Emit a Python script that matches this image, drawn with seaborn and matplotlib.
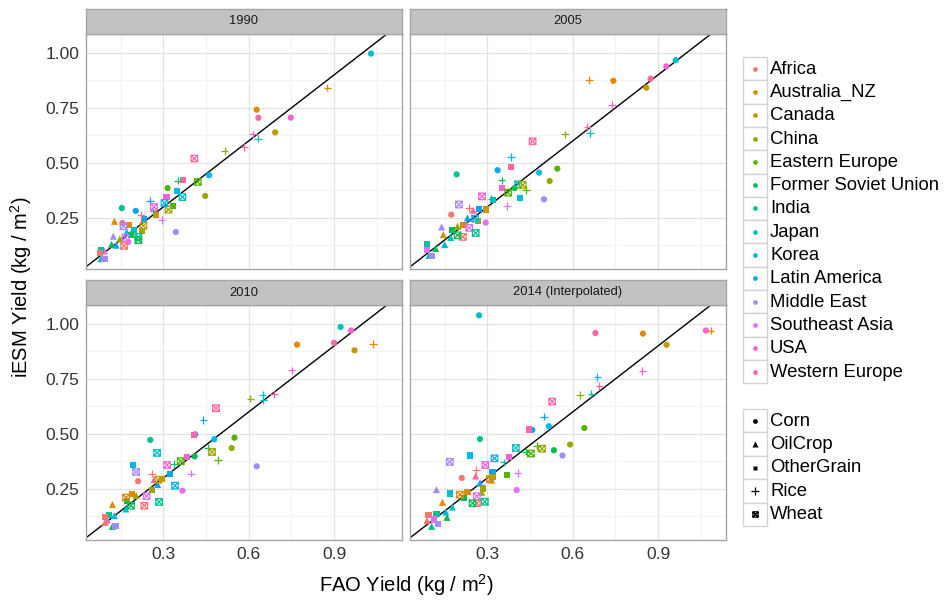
import matplotlib
matplotlib.use("Agg")
import pandas as pd
import seaborn as sns
import matplotlib.pyplot as plt
from matplotlib.path import Path
from matplotlib.patches import Rectangle

# categories
regions = ["Africa", "Australia_NZ", "Canada", "China", "Eastern Europe",
           "Former Soviet Union", "India", "Japan", "Korea", "Latin America",
           "Middle East", "Southeast Asia", "USA", "Western Europe"]
region_colors = ["#F8766D", "#E38900", "#C49A00", "#99A800", "#53B400",
                 "#00BC56", "#00C094", "#00BFC4", "#00B6EB", "#06A4FF",
                 "#A58AFF", "#DF70F8", "#FB61D7", "#FF66A8"]
crops = ["Corn", "OilCrop", "OtherGrain", "Rice", "Wheat"]
years = ["1990", "2005", "2010", "2014 (Interpolated)"]

# (region, crop, FAO yield, iESM yield), kg / m2
yield_1990 = [
    ("Japan", "Corn", 1.030, 0.997), ("Australia_NZ", "Rice", 0.877, 0.842),
    ("Australia_NZ", "Corn", 0.628, 0.742), ("Western Europe", "Corn", 0.634, 0.705),
    ("USA", "Corn", 0.748, 0.706), ("Canada", "Corn", 0.693, 0.639),
    ("USA", "Rice", 0.616, 0.630), ("Japan", "Rice", 0.632, 0.611),
    ("Western Europe", "Rice", 0.585, 0.573), ("China", "Rice", 0.515, 0.555),
    ("Western Europe", "Wheat", 0.409, 0.520), ("Korea", "Corn", 0.461, 0.444),
    ("China", "Corn", 0.447, 0.350), ("Middle East", "Corn", 0.344, 0.186),
    ("Former Soviet Union", "Rice", 0.352, 0.420), ("Western Europe", "OtherGrain", 0.370, 0.424),
    ("Eastern Europe", "Wheat", 0.421, 0.414), ("Eastern Europe", "Corn", 0.315, 0.386),
    ("Korea", "OtherGrain", 0.348, 0.371), ("Japan", "Wheat", 0.367, 0.345),
    ("USA", "OtherGrain", 0.311, 0.345), ("Eastern Europe", "OtherGrain", 0.335, 0.305),
    ("China", "Wheat", 0.318, 0.288), ("Korea", "Wheat", 0.304, 0.318),
    ("Latin America", "Rice", 0.253, 0.327), ("USA", "Wheat", 0.267, 0.300),
    ("India", "Rice", 0.265, 0.280), ("India", "Corn", 0.154, 0.295),
    ("Latin America", "Corn", 0.203, 0.282), ("Africa", "Rice", 0.221, 0.264),
    ("Canada", "OtherGrain", 0.275, 0.262), ("Southeast Asia", "Rice", 0.294, 0.240),
    ("Australia_NZ", "OilCrop", 0.128, 0.235), ("Africa", "Corn", 0.156, 0.227),
    ("Middle East", "Wheat", 0.160, 0.212), ("Australia_NZ", "OtherGrain", 0.178, 0.217),
    ("Latin America", "OtherGrain", 0.233, 0.244), ("Canada", "Wheat", 0.230, 0.215),
    ("China", "OtherGrain", 0.226, 0.190), ("India", "Wheat", 0.212, 0.164),
    ("Former Soviet Union", "Wheat", 0.212, 0.149), ("Japan", "OtherGrain", 0.198, 0.194),
    ("Korea", "OilCrop", 0.171, 0.186), ("Former Soviet Union", "OtherGrain", 0.186, 0.171),
    ("Southeast Asia", "Wheat", 0.167, 0.160), ("Southeast Asia", "Corn", 0.177, 0.141),
    ("Africa", "Wheat", 0.162, 0.123), ("Middle East", "OilCrop", 0.124, 0.167),
    ("Former Soviet Union", "OilCrop", 0.118, 0.130), ("Latin America", "OilCrop", 0.134, 0.126),
    ("China", "OilCrop", 0.147, 0.155), ("India", "OtherGrain", 0.081, 0.106),
    ("Africa", "OtherGrain", 0.077, 0.090), ("India", "OilCrop", 0.081, 0.065),
    ("Middle East", "OtherGrain", 0.093, 0.065), ("Southeast Asia", "OilCrop", 0.093, 0.100),
]

yield_2005 = [
    ("Japan", "Corn", 0.962, 0.967), ("USA", "Corn", 0.929, 0.939),
    ("Western Europe", "Corn", 0.874, 0.883), ("Canada", "Corn", 0.859, 0.842),
    ("Australia_NZ", "Corn", 0.743, 0.873), ("Australia_NZ", "Rice", 0.657, 0.876),
    ("USA", "Rice", 0.739, 0.765), ("Western Europe", "Rice", 0.652, 0.664),
    ("Japan", "Rice", 0.661, 0.636), ("China", "Rice", 0.573, 0.630),
    ("Western Europe", "Wheat", 0.459, 0.598), ("Korea", "Rice", 0.384, 0.527),
    ("Western Europe", "OtherGrain", 0.382, 0.482), ("Latin America", "Corn", 0.336, 0.467),
    ("India", "Corn", 0.192, 0.448), ("Korea", "Corn", 0.482, 0.456),
    ("Eastern Europe", "Corn", 0.546, 0.474), ("China", "Corn", 0.519, 0.418),
    ("Middle East", "Corn", 0.499, 0.335), ("Former Soviet Union", "Rice", 0.350, 0.421),
    ("USA", "OtherGrain", 0.352, 0.385), ("Japan", "Wheat", 0.408, 0.403),
    ("China", "Wheat", 0.424, 0.400), ("Eastern Europe", "Rice", 0.435, 0.376),
    ("Former Soviet Union", "Corn", 0.396, 0.386), ("Eastern Europe", "Wheat", 0.373, 0.365),
    ("Korea", "OtherGrain", 0.416, 0.342), ("Southeast Asia", "Rice", 0.369, 0.303),
    ("India", "Rice", 0.314, 0.338), ("Japan", "OtherGrain", 0.321, 0.330),
    ("USA", "Wheat", 0.281, 0.348), ("Middle East", "Wheat", 0.200, 0.311),
    ("Africa", "Rice", 0.236, 0.295), ("Western Europe", "OilCrop", 0.250, 0.285),
    ("Africa", "Corn", 0.173, 0.265), ("Latin America", "OtherGrain", 0.271, 0.292),
    ("Canada", "OtherGrain", 0.294, 0.288), ("China", "OtherGrain", 0.267, 0.235),
    ("Southeast Asia", "Corn", 0.294, 0.229), ("Latin America", "OilCrop", 0.230, 0.250),
    ("Korea", "Wheat", 0.257, 0.247), ("Middle East", "OilCrop", 0.139, 0.209),
    ("Australia_NZ", "OilCrop", 0.145, 0.174), ("China", "OilCrop", 0.195, 0.212),
    ("Australia_NZ", "OtherGrain", 0.216, 0.217), ("Southeast Asia", "Wheat", 0.236, 0.205),
    ("India", "Wheat", 0.259, 0.182), ("Africa", "Wheat", 0.214, 0.164),
    ("Former Soviet Union", "Wheat", 0.195, 0.171), ("Former Soviet Union", "OtherGrain", 0.175, 0.194),
    ("Japan", "OilCrop", 0.171, 0.161), ("Korea", "OilCrop", 0.150, 0.129),
    ("India", "OtherGrain", 0.087, 0.129), ("Southeast Asia", "OtherGrain", 0.089, 0.103),
    ("Former Soviet Union", "OilCrop", 0.118, 0.111), ("Middle East", "OtherGrain", 0.104, 0.077),
    ("India", "OilCrop", 0.095, 0.080),
]

yield_2010 = [
    ("Japan", "Corn", 0.923, 0.986), ("USA", "Corn", 0.960, 0.970),
    ("Western Europe", "Corn", 0.900, 0.914), ("Canada", "Corn", 0.972, 0.880),
    ("Australia_NZ", "Corn", 0.770, 0.906), ("Australia_NZ", "Rice", 1.036, 0.908),
    ("USA", "Rice", 0.751, 0.789), ("Western Europe", "Rice", 0.689, 0.682),
    ("Korea", "Rice", 0.649, 0.676), ("Japan", "Rice", 0.652, 0.653),
    ("China", "Rice", 0.606, 0.661), ("Western Europe", "Wheat", 0.485, 0.617),
    ("Latin America", "Rice", 0.441, 0.562), ("Latin America", "Corn", 0.412, 0.498),
    ("Western Europe", "OtherGrain", 0.409, 0.495), ("India", "Corn", 0.254, 0.473),
    ("Korea", "Corn", 0.479, 0.476), ("Eastern Europe", "Corn", 0.550, 0.483),
    ("China", "Corn", 0.540, 0.436), ("Middle East", "Corn", 0.628, 0.353),
    ("Japan", "Wheat", 0.278, 0.414), ("Former Soviet Union", "Rice", 0.456, 0.436),
    ("China", "Wheat", 0.471, 0.418), ("Eastern Europe", "Rice", 0.493, 0.382),
    ("Former Soviet Union", "Corn", 0.410, 0.398), ("USA", "OtherGrain", 0.382, 0.397),
    ("Eastern Europe", "Wheat", 0.361, 0.376), ("India", "Rice", 0.338, 0.364),
    ("Southeast Asia", "Rice", 0.397, 0.320), ("USA", "Wheat", 0.313, 0.359),
    ("Korea", "OtherGrain", 0.192, 0.358), ("Middle East", "Wheat", 0.204, 0.327),
    ("Africa", "Rice", 0.259, 0.320), ("Africa", "Corn", 0.211, 0.285),
    ("Latin America", "OtherGrain", 0.323, 0.318), ("Korea", "Wheat", 0.341, 0.265),
    ("Southeast Asia", "Corn", 0.367, 0.242), ("Canada", "OtherGrain", 0.296, 0.297),
    ("Western Europe", "OilCrop", 0.267, 0.292), ("Canada", "Wheat", 0.282, 0.292),
    ("Latin America", "OilCrop", 0.280, 0.270), ("China", "OtherGrain", 0.261, 0.247),
    ("India", "Wheat", 0.285, 0.191), ("Africa", "Wheat", 0.233, 0.174),
    ("Southeast Asia", "Wheat", 0.241, 0.217), ("China", "OilCrop", 0.204, 0.220),
    ("Australia_NZ", "OtherGrain", 0.190, 0.227), ("Australia_NZ", "Wheat", 0.169, 0.211),
    ("Former Soviet Union", "OtherGrain", 0.171, 0.194), ("Former Soviet Union", "Wheat", 0.186, 0.174),
    ("Japan", "OilCrop", 0.168, 0.159), ("Australia_NZ", "OilCrop", 0.121, 0.179),
    ("India", "OtherGrain", 0.109, 0.133), ("Africa", "OtherGrain", 0.095, 0.123),
    ("Korea", "OilCrop", 0.128, 0.129), ("USA", "OilCrop", 0.103, 0.108),
    ("Former Soviet Union", "OilCrop", 0.121, 0.080), ("Middle East", "OtherGrain", 0.132, 0.080),
    ("Africa", "OilCrop", 0.095, 0.098),
]

yield_2014 = [
    ("Japan", "Corn", 0.271, 1.039), ("Western Europe", "Corn", 0.680, 0.959),
    ("Australia_NZ", "Corn", 0.847, 0.956), ("USA", "Corn", 1.068, 0.970),
    ("Australia_NZ", "Rice", 1.085, 0.970), ("Canada", "Corn", 0.930, 0.905),
    ("USA", "Rice", 0.845, 0.785), ("Korea", "Rice", 0.687, 0.758),
    ("Western Europe", "Rice", 0.694, 0.717), ("China", "Rice", 0.625, 0.676),
    ("Japan", "Rice", 0.666, 0.683), ("Western Europe", "Wheat", 0.528, 0.647),
    ("Latin America", "Rice", 0.499, 0.579), ("Korea", "Corn", 0.516, 0.535),
    ("Eastern Europe", "Corn", 0.641, 0.527), ("Western Europe", "OtherGrain", 0.447, 0.520),
    ("Latin America", "Corn", 0.458, 0.518), ("India", "Corn", 0.274, 0.477),
    ("China", "Corn", 0.591, 0.452), ("Former Soviet Union", "Corn", 0.534, 0.426),
    ("Middle East", "Corn", 0.564, 0.402), ("Eastern Europe", "Rice", 0.475, 0.445),
    ("China", "Wheat", 0.492, 0.433), ("Japan", "Wheat", 0.400, 0.436),
    ("Former Soviet Union", "Rice", 0.436, 0.420), ("Eastern Europe", "Wheat", 0.453, 0.411),
    ("USA", "OtherGrain", 0.376, 0.395), ("Korea", "Wheat", 0.325, 0.389),
    ("India", "Rice", 0.357, 0.371), ("Korea", "OtherGrain", 0.239, 0.402),
    ("Middle East", "Wheat", 0.168, 0.373), ("USA", "Wheat", 0.293, 0.359),
    ("Africa", "Rice", 0.259, 0.336), ("Western Europe", "OilCrop", 0.259, 0.309),
    ("Southeast Asia", "Rice", 0.406, 0.323), ("Africa", "Corn", 0.210, 0.300),
    ("Latin America", "OtherGrain", 0.318, 0.327), ("Eastern Europe", "OtherGrain", 0.370, 0.315),
    ("Canada", "OtherGrain", 0.318, 0.305), ("Canada", "Wheat", 0.309, 0.295),
    ("USA", "OilCrop", 0.315, 0.290), ("Southeast Asia", "Corn", 0.403, 0.245),
    ("Latin America", "OilCrop", 0.274, 0.277), ("China", "OtherGrain", 0.286, 0.252),
    ("China", "OilCrop", 0.280, 0.235), ("Middle East", "OilCrop", 0.121, 0.247),
    ("Japan", "OtherGrain", 0.168, 0.229), ("Australia_NZ", "Wheat", 0.203, 0.224),
    ("Australia_NZ", "OtherGrain", 0.230, 0.236), ("Former Soviet Union", "OtherGrain", 0.218, 0.209),
    ("Southeast Asia", "Wheat", 0.263, 0.217), ("Africa", "Wheat", 0.263, 0.185),
    ("Former Soviet Union", "Wheat", 0.248, 0.185), ("India", "Wheat", 0.291, 0.192),
    ("Australia_NZ", "OilCrop", 0.142, 0.189), ("Japan", "OilCrop", 0.177, 0.168),
    ("India", "OtherGrain", 0.121, 0.136), ("Korea", "OilCrop", 0.154, 0.145),
    ("Former Soviet Union", "OilCrop", 0.158, 0.121), ("Africa", "OtherGrain", 0.093, 0.130),
    ("Africa", "OilCrop", 0.088, 0.106), ("Southeast Asia", "OtherGrain", 0.111, 0.111),
    ("Middle East", "OtherGrain", 0.127, 0.092), ("India", "OilCrop", 0.104, 0.080),
]

year_data = [yield_1990, yield_2005, yield_2010, yield_2014]

sns.set_style("white")
plt.rcParams["font.family"] = ["Liberation Sans", "DejaVu Sans"]
plt.rcParams["mathtext.fontset"] = "custom"
plt.rcParams["mathtext.rm"] = "Liberation Sans"
plt.rcParams["mathtext.it"] = "Liberation Sans:italic"

W, H = 945, 603
fig = plt.figure(figsize=(W / 100, H / 100), dpi=100)


def box(x0, y0, x1, y1):
    # pixel box (top-left origin) -> figure fraction
    return [x0 / W, 1 - y1 / H, (x1 - x0) / W, (y1 - y0) / H]


# square with an X, like ggplot shape 7
wheat = Path([(-1, -1), (1, -1), (1, 1), (-1, 1), (-1, -1),
              (-1, -1), (1, 1), (-1, 1), (1, -1)],
             [Path.MOVETO, Path.LINETO, Path.LINETO, Path.LINETO, Path.CLOSEPOLY,
              Path.MOVETO, Path.LINETO, Path.MOVETO, Path.LINETO])
crop_marker = {"Corn": ("o", 20), "OilCrop": ("^", 26), "OtherGrain": ("s", 20),
               "Rice": ("+", 30), "Wheat": (wheat, 22)}
palette = dict(zip(regions, region_colors))

cols = [(86, 402), (410, 726)]
rows = [(34, 269), (305, 540)]

for k, (title, recs) in enumerate(zip(years, year_data)):
    r, c = divmod(k, 2)
    x0, x1 = cols[c]
    y0, y1 = rows[r]
    ax = fig.add_axes(box(x0, y0, x1, y1))
    df = pd.DataFrame(recs, columns=["Region", "Crop", "FAO", "iESM"])

    for crop in crops:
        sub = df[df["Crop"] == crop]
        marker, size = crop_marker[crop]
        kw = {"linewidth": 0.9} if crop in ("Rice", "Wheat") else {"linewidth": 0}
        sns.scatterplot(data=sub, x="FAO", y="iESM", hue="Region", hue_order=regions,
                        palette=palette, marker=marker, s=size, legend=False,
                        ax=ax, zorder=3, **kw)
        if crop == "Wheat":
            pts = ax.collections[-1]
            pts.set_edgecolors(pts.get_facecolors())
            pts.set_facecolors("none")

    ax.axline((0, 0), (1, 1), color="black", lw=1.0, zorder=2)
    ax.set_xlim(0.028, 1.139)
    ax.set_ylim(0.018, 1.086)
    ax.set_xticks([0.3, 0.6, 0.9])
    ax.set_xticks([0.15, 0.45, 0.75, 1.05], minor=True)
    ax.set_yticks([0.25, 0.5, 0.75, 1.0])
    ax.set_yticks([0.125, 0.375, 0.625, 0.875], minor=True)
    ax.set_yticklabels(["0.25", "0.50", "0.75", "1.00"])
    ax.grid(which="major", color="#e3e3e3", lw=0.9)
    ax.grid(which="minor", color="#f3f3f3", lw=0.9)
    ax.set_axisbelow(True)
    ax.set_xlabel("")
    ax.set_ylabel("")
    ax.tick_params(which="minor", length=0)
    ax.tick_params(which="major", length=3, width=0.9, color="#333333",
                   labelsize=12.5, labelcolor="#333333", pad=2)
    if r == 0:
        ax.tick_params(axis="x", length=0, labelbottom=False)
    if c == 1:
        ax.tick_params(axis="y", length=0, labelleft=False)
    for sp in ax.spines.values():
        sp.set_color("#a6a6a6")
        sp.set_linewidth(1.0)

    # facet strip
    sax = fig.add_axes(box(x0, y0 - 25, x1, y0))
    sax.set_facecolor("#c2c2c2")
    sax.set_xticks([])
    sax.set_yticks([])
    for sp in sax.spines.values():
        sp.set_color("#a6a6a6")
        sp.set_linewidth(1.0)
    sax.text(0.5, 0.5, title, ha="center", va="center", fontsize=9.3,
             color="#1a1a1a", transform=sax.transAxes)

fig.text(406 / W, 1 - 585 / H, r"FAO Yield (kg / m$^2$)", ha="center", va="center",
         fontsize=14.5, color="black")
fig.text(21 / W, 1 - 287 / H, r"iESM Yield (kg / m$^2$)", ha="center", va="center",
         fontsize=14.5, rotation=90, color="black")

# legends drawn in pixel space
lax = fig.add_axes([0, 0, 1, 1])
lax.set_xlim(0, W)
lax.set_ylim(H, 0)
lax.axis("off")
lax.patch.set_alpha(0)

kh = 23.3
for i, (name, col) in enumerate(zip(regions, region_colors)):
    top = 57 + i * kh
    lax.add_patch(Rectangle((743, top), 24, kh, facecolor="white",
                            edgecolor="#d4d4d4", lw=1.0))
    lax.plot([755], [top + kh / 2], marker="o", ms=3.4, color=col, mec="none")
    lax.text(770, top + kh / 2 + 0.5, name, ha="left", va="center", fontsize=13.3,
             color="black")

shape_key = {"Corn": ("o", 3.4), "OilCrop": ("^", 4.0), "OtherGrain": ("s", 3.4),
             "Rice": ("+", 6.0), "Wheat": (wheat, 3.8)}
for i, name in enumerate(crops):
    top = 409 + i * 23.4
    lax.add_patch(Rectangle((743, top), 24, 23.4, facecolor="white",
                            edgecolor="#d4d4d4", lw=1.0))
    mk, ms = shape_key[name]
    if name in ("Rice", "Wheat"):
        lax.plot([755], [top + 11.7], marker=mk, ms=ms, color="black", mfc="none",
                 mew=0.9)
    else:
        lax.plot([755], [top + 11.7], marker=mk, ms=ms, color="black", mec="none")
    lax.text(770, top + 11.7 + 0.5, name, ha="left", va="center", fontsize=13.3,
             color="black")

fig.savefig("out.png", dpi=100)
